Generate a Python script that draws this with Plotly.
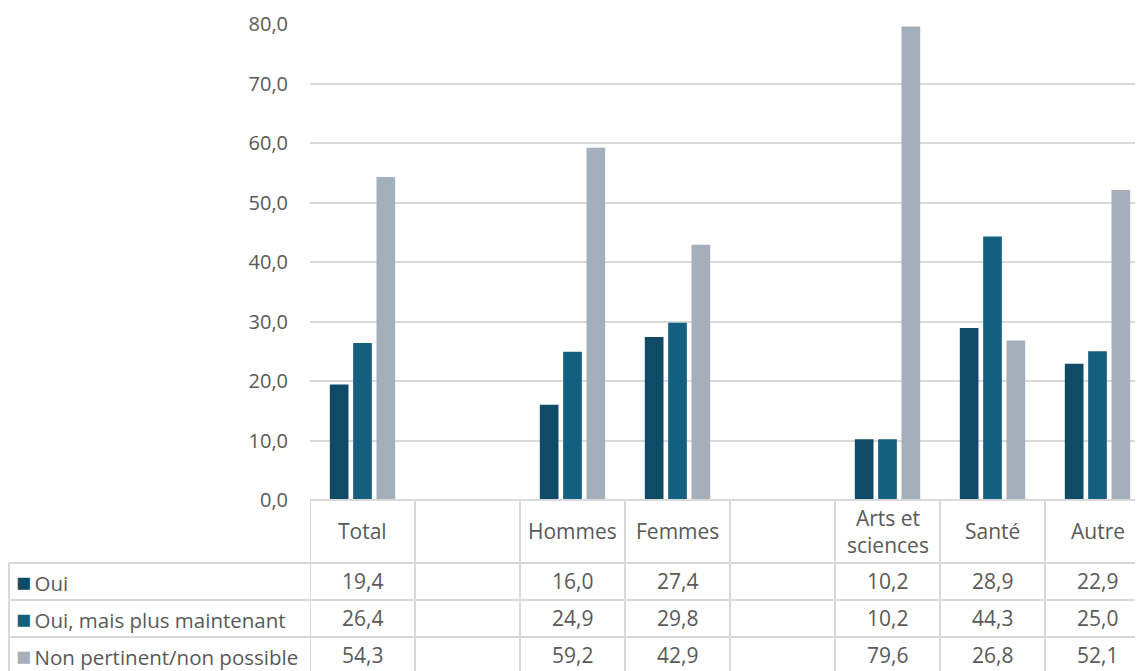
import plotly.graph_objects as go

# ---- data ----
categories = ["Total", "", "Hommes", "Femmes", "", "Arts et<br>sciences", "Santé", "Autre"]
series_names = ["Oui", "Oui, mais plus maintenant", "Non pertinent/non possible"]
oui = [19.4, None, 16.0, 27.4, None, 10.2, 28.9, 22.9]
oui_mais = [26.4, None, 24.9, 29.8, None, 10.2, 44.3, 25.0]
non_pertinent = [54.3, None, 59.2, 42.9, None, 79.6, 26.8, 52.1]
y_ticks = [0, 10, 20, 30, 40, 50, 60, 70, 80]

series = [oui, oui_mais, non_pertinent]
colors = ["#0f4b67", "#145f80", "#a3afbb"]

OFF = 8  # page body margin
W, H = 1143 - OFF, 671 - OFF
L, T = 310 - OFF, 24 - OFF
B = H - (500 - OFF)
COL_PX = 105.0
plot_w = W - L
plot_h = H - T - B
grid_col = "#d9d9d9"
txt_col = "#595959"
FONT = "Open Sans"
FS = 20
FS_TAB = 21
FS_LAB = 20.5

def py(Y):
    return (500 - Y) / plot_h

def pxx(X):
    return (X - 310) / plot_w

x_pos = list(range(len(categories)))

fig = go.Figure()
for name, vals, col in zip(series_names, series, colors):
    fig.add_bar(x=x_pos, y=vals, name=name, marker_color=col, marker_line_width=0)

shapes = []
shapes.append(dict(type="line", xref="paper", yref="paper", x0=0, x1=1.02, y0=0, y1=0,
                   line=dict(color=grid_col, width=2), layer="above"))
for Y in [563, 600, 637, 674]:
    shapes.append(dict(type="line", xref="paper", yref="paper", x0=pxx(9), x1=1.02,
                       y0=py(Y), y1=py(Y), line=dict(color=grid_col, width=2)))
shapes.append(dict(type="line", xref="paper", yref="paper", x0=pxx(9), x1=pxx(9),
                   y0=py(563), y1=py(690), line=dict(color=grid_col, width=2)))
for i in range(len(categories) + 1):
    shapes.append(dict(type="line", xref="x", yref="paper", x0=i - 0.5, x1=i - 0.5,
                       y0=0, y1=py(690), line=dict(color=grid_col, width=2)))

annotations = []
for i, c in enumerate(categories):
    if c:
        annotations.append(dict(x=i, y=py(531), xref="x", yref="paper", text=c,
                                showarrow=False, font=dict(size=FS_TAB, color=txt_col, family=FONT),
                                xanchor="center", yanchor="middle"))
row_centers = [581, 618, 655]
for r, (name, vals, col) in enumerate(zip(series_names, series, colors)):
    annotations.append(dict(x=pxx(14), y=py(row_centers[r]), xref="paper", yref="paper",
                            text=f'<span style="color:{col};font-size:25px">■</span>\u2009{name}',
                            showarrow=False, font=dict(size=FS_LAB, color=txt_col, family=FONT),
                            xanchor="left", yanchor="middle"))
    for i, v in enumerate(vals):
        if v is not None:
            annotations.append(dict(x=i, y=py(row_centers[r]), xref="x", yref="paper",
                                    text=f"{v:.1f}".replace(".", ","), showarrow=False,
                                    font=dict(size=FS_TAB, color=txt_col, family=FONT),
                                    xanchor="center", yanchor="middle"))

fig.update_layout(
    width=W, height=H,
    margin=dict(l=L, r=0, t=T, b=B, pad=0),
    plot_bgcolor="white", paper_bgcolor="white",
    separators=", ",
    barmode="group", bargap=0.333, bargroupgap=0.2,
    showlegend=False,
    font=dict(family=FONT, color=txt_col),
    shapes=shapes, annotations=annotations,
    xaxis=dict(range=[-0.5, -0.5 + plot_w / COL_PX], showticklabels=False, showgrid=False,
               zeroline=False, showline=False, fixedrange=True),
    yaxis=dict(range=[0, 80], tickvals=y_ticks, tickformat=".1f", gridcolor=grid_col, gridwidth=2,
               zeroline=False, showline=False, ticks="", ticklabelstandoff=21,
               tickfont=dict(size=FS, color=txt_col, family=FONT), fixedrange=True),
)

fig.write_html("out.html")
